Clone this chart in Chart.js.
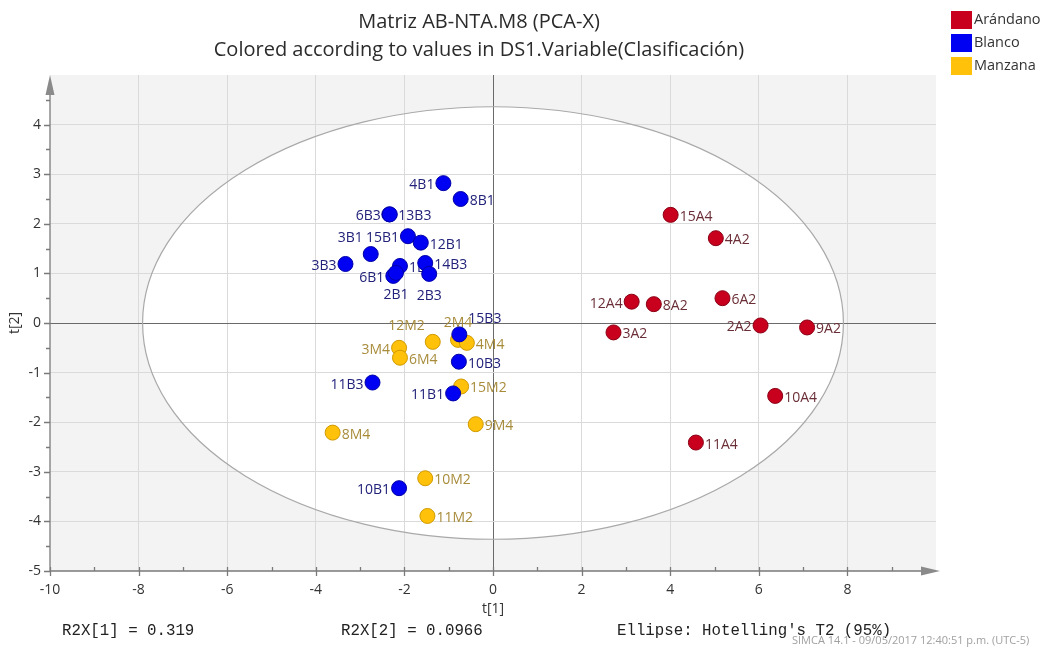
<!DOCTYPE html>
<html>
<head>
<meta charset="utf-8">
<script src="https://cdn.jsdelivr.net/npm/chart.js@4"></script>
<style>
  body { margin: 0; background: #fff; }
  #wrap { width: 1055px; height: 649px; }
</style>
</head>
<body>
<div id="wrap"><canvas id="pcaChart" width="1055" height="649"></canvas></div>
<script>
// tick labels
const xTickLabels = [-10, -8, -6, -4, -2, 0, 2, 4, 6, 8];
const yTickLabels = [-5, -4, -3, -2, -1, 0, 1, 2, 3, 4];

// Arándano
const arandanoNames = ['15A4', '4A2', '12A4', '8A2', '6A2', '3A2', '2A2', '9A2', '10A4', '11A4'];
const arandanoX = [4.01, 5.03, 3.13, 3.63, 5.18, 2.72, 6.04, 7.09, 6.37, 4.58];
const arandanoY = [2.18, 1.71, 0.43, 0.38, 0.50, -0.19, -0.05, -0.09, -1.47, -2.41];
const arandanoPos = ['r', 'r', 'l', 'r', 'r', 'r', 'l', 'r', 'r', 'r'];

// Blanco
const blancoNames = ['4B1', '8B1', '13B3', '6B3', '15B1', '12B1', '3B1', '3B3', '1B1', '14B3', '6B1', '2B1', '2B3', '15B3', '10B3', '11B3', '11B1', '10B1'];
const blancoX = [-1.12, -0.73, -2.34, -2.33, -1.92, -1.63, -2.76, -3.33, -2.10, -1.53, -2.25, -2.19, -1.44, -0.76, -0.77, -2.72, -0.90, -2.12];
const blancoY = [2.82, 2.50, 2.19, 2.19, 1.75, 1.62, 1.39, 1.19, 1.15, 1.21, 0.95, 1.01, 0.99, -0.23, -0.78, -1.20, -1.42, -3.33];
const blancoPos = ['l', 'r', 'r', 'l', 'l', 'r', 'ul', 'l', 'r', 'r', 'l', 'b', 'b', 'ur', 'r', 'l', 'l', 'l'];

// Manzana
const manzanaNames = ['2M4', '4M4', '12M2', '3M4', '6M4', '15M2', '9M4', '8M4', '10M2', '11M2'];
const manzanaX = [-0.79, -0.59, -1.36, -2.12, -2.10, -0.72, -0.39, -3.62, -1.53, -1.48];
const manzanaY = [-0.34, -0.40, -0.38, -0.50, -0.70, -1.28, -2.04, -2.21, -3.13, -3.89];
const manzanaPos = ['a', 'r', 'ul', 'l', 'r', 'r', 'r', 'r', 'r', 'r'];

// Hotelling T2 ellipse (semi axes)
const ellipseA = 7.91;
const ellipseB = 4.36;

const groups = [
    { name: 'Arándano', names: arandanoNames, xs: arandanoX, ys: arandanoY, pos: arandanoPos,
      fill: '#c8001e', border: '#8a0014', text: '#6a2e36' },
    { name: 'Blanco', names: blancoNames, xs: blancoX, ys: blancoY, pos: blancoPos,
      fill: '#0000f2', border: '#0000a8', text: '#22227a' },
    { name: 'Manzana', names: manzanaNames, xs: manzanaX, ys: manzanaY, pos: manzanaPos,
      fill: '#ffc10a', border: '#d09a00', text: '#a88c3c' }
];

function toPoints(xs, ys) {
    return xs.map((v, i) => ({ x: v, y: ys[i] }));
}

function ellipsePath(ctx, chart) {
    const { x, y } = chart.scales;
    const cx = x.getPixelForValue(0), cy = y.getPixelForValue(0);
    const rx = x.getPixelForValue(ellipseA) - cx;
    const ry = cy - y.getPixelForValue(ellipseB);
    ctx.beginPath();
    ctx.ellipse(cx, cy, rx, ry, 0, 0, Math.PI * 2);
}

function drawPointLabel(ctx, text, px, py, pos) {
    let tx = px, ty = py + 2, align = 'left';
    if (pos === 'r') { tx = px + 9; }
    else if (pos === 'l') { tx = px - 9; align = 'right'; }
    else if (pos === 'b') { align = 'center'; ty = py + 22; }
    else if (pos === 'a') { align = 'center'; ty = py - 17; }
    else if (pos === 'ul') { tx = px - 8; align = 'right'; ty = py - 16; }
    else if (pos === 'ur') { tx = px + 9; ty = py - 15; }
    ctx.textAlign = align;
    ctx.fillText(text, tx, ty);
}

const simcaDecor = {
    id: 'simcaDecor',
    beforeDraw(chart) {
        const { ctx, chartArea: a } = chart;
        ctx.save();
        ctx.fillStyle = '#f3f3f3';
        ctx.fillRect(a.left, a.top, a.right - a.left, a.bottom - a.top);
        ellipsePath(ctx, chart);
        ctx.fillStyle = '#ffffff';
        ctx.fill();
        ctx.restore();
    },
    beforeDatasetsDraw(chart) {
        const { ctx, scales: { x, y } } = chart;
        ctx.save();
        ellipsePath(ctx, chart);
        ctx.strokeStyle = '#a9a9a9';
        ctx.lineWidth = 1.2;
        ctx.stroke();
        // etiquetas de las observaciones (debajo de los puntos)
        ctx.font = '14px "Open Sans"';
        ctx.textBaseline = 'middle';
        groups.forEach(g => {
            ctx.fillStyle = g.text;
            g.names.forEach((n, i) => {
                drawPointLabel(ctx, n, x.getPixelForValue(g.xs[i]), y.getPixelForValue(g.ys[i]), g.pos[i]);
            });
        });
        ctx.restore();
    },
    afterDraw(chart) {
        const { ctx, chartArea: a, scales: { x, y } } = chart;
        ctx.save();
        // ejes con flechas
        ctx.strokeStyle = '#7a7a7a';
        ctx.fillStyle = '#8a8a8a';
        ctx.lineWidth = 1.3;
        ctx.beginPath();
        ctx.moveTo(a.left, a.bottom);
        ctx.lineTo(a.right - 15, a.bottom);
        ctx.moveTo(a.left, a.bottom);
        ctx.lineTo(a.left, a.top + 20);
        // ticks
        for (let v = -10; v <= 9; v++) {
            const px = Math.round(x.getPixelForValue(v)) + 0.5;
            if (v % 2 === 0) { ctx.moveTo(px, a.bottom - 4); ctx.lineTo(px, a.bottom + 5); }
            else { ctx.moveTo(px, a.bottom - 4); ctx.lineTo(px, a.bottom); }
        }
        for (let v = -5; v <= 4.5; v += 0.5) {
            const py = Math.round(y.getPixelForValue(v)) + 0.5;
            if (Number.isInteger(v)) { ctx.moveTo(a.left - 6, py); ctx.lineTo(a.left, py); }
            else { ctx.moveTo(a.left - 4, py); ctx.lineTo(a.left, py); }
        }
        ctx.stroke();
        ctx.beginPath();
        ctx.moveTo(a.left, a.top);
        ctx.lineTo(a.left - 4.5, a.top + 20);
        ctx.lineTo(a.left + 4.5, a.top + 20);
        ctx.closePath();
        ctx.fill();
        ctx.beginPath();
        ctx.moveTo(a.right + 4, a.bottom);
        ctx.lineTo(a.right - 15, a.bottom - 4.5);
        ctx.lineTo(a.right - 15, a.bottom + 4.5);
        ctx.closePath();
        ctx.fill();

        // títulos de ejes
        ctx.fillStyle = '#333';
        ctx.font = '14px "Open Sans"';
        ctx.textAlign = 'center';
        ctx.textBaseline = 'middle';
        ctx.fillText('t[1]', x.getPixelForValue(0), 609);
        ctx.save();
        ctx.translate(15, (a.top + a.bottom) / 2);
        ctx.rotate(-Math.PI / 2);
        ctx.fillText('t[2]', 0, 0);
        ctx.restore();

        // título
        ctx.font = '20px "Open Sans"';
        ctx.fillStyle = '#2b2b2b';
        ctx.fillText('Matriz AB-NTA.M8 (PCA-X)', 479, 22);
        ctx.fillText('Colored according to values in DS1.Variable(Clasificación)', 479, 50);

        // leyenda
        ctx.font = '14.5px "Open Sans"';
        ctx.textAlign = 'left';
        groups.forEach((g, i) => {
            const top = 11 + i * 23;
            ctx.fillStyle = g.fill;
            ctx.fillRect(951, top, 21, 18);
            ctx.fillStyle = '#333';
            ctx.fillText(g.name, 974, top + 9);
        });

        // pie
        ctx.font = '15.75px "Liberation Mono"';
        ctx.fillStyle = '#222';
        ctx.fillText('R2X[1] = 0.319', 62, 631);
        ctx.fillText('R2X[2] = 0.0966', 341, 631);
        ctx.fillText("Ellipse: Hotelling's T2 (95%)", 617, 631);
        ctx.font = '11px "Open Sans"';
        ctx.fillStyle = '#a0a0a0';
        ctx.fillText('SIMCA 14.1 - 09/05/2017 12:40:51 p.m. (UTC-5)', 792, 641, 262);
        ctx.restore();
    }
};

const ctx = document.getElementById('pcaChart').getContext('2d');
new Chart(ctx, {
    type: 'scatter',
    data: {
        datasets: [
            { label: groups[0].name, data: toPoints(arandanoX, arandanoY),
              backgroundColor: groups[0].fill, borderColor: groups[0].border },
            { label: groups[1].name, data: toPoints(blancoX, blancoY),
              backgroundColor: groups[1].fill, borderColor: groups[1].border },
            { label: groups[2].name, data: toPoints(manzanaX, manzanaY),
              backgroundColor: groups[2].fill, borderColor: groups[2].border }
        ]
    },
    options: {
        responsive: false,
        animation: false,
        layout: { padding: { top: 75, right: 119, left: 0, bottom: 0 } },
        elements: { point: { radius: 7.5, borderWidth: 1, hoverRadius: 7.5 } },
        plugins: {
            legend: { display: false },
            tooltip: { enabled: false }
        },
        scales: {
            x: {
                type: 'linear',
                min: -10,
                max: 10,
                afterFit: s => { s.height = 78; },
                border: { display: false },
                grid: {
                    drawTicks: false,
                    color: c => c.tick.value === 0 ? '#6a6a6a' : (Math.abs(c.tick.value) === 10 ? 'rgba(0,0,0,0)' : '#dadada')
                },
                ticks: {
                    stepSize: 2,
                    padding: 11,
                    color: '#333',
                    font: { family: 'Open Sans', size: 14 },
                    callback: v => xTickLabels.includes(v) ? v : ''
                }
            },
            y: {
                type: 'linear',
                min: -5,
                max: 5,
                afterFit: s => { s.width = 50; },
                border: { display: false },
                grid: {
                    drawTicks: false,
                    color: c => c.tick.value === 0 ? '#6a6a6a' : (Math.abs(c.tick.value) === 5 ? 'rgba(0,0,0,0)' : '#dadada')
                },
                ticks: {
                    stepSize: 1,
                    padding: 9,
                    color: '#333',
                    font: { family: 'Open Sans', size: 14 },
                    callback: v => yTickLabels.includes(v) ? v : ''
                }
            }
        }
    },
    plugins: [simcaDecor]
});
</script>
</body>
</html>
